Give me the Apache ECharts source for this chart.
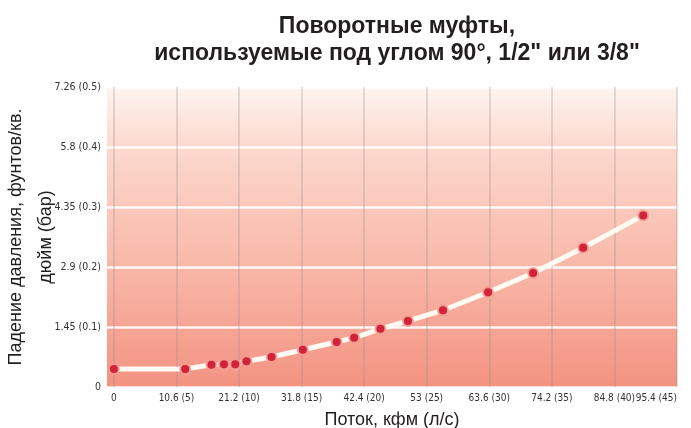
<!DOCTYPE html>
<html>
<head>
<meta charset="utf-8">
<script src="https://cdn.jsdelivr.net/npm/echarts@6/dist/echarts.min.js"></script>
<style>
  html, body { margin: 0; padding: 0; background: #fff; }
  #chart { width: 691px; height: 428px; }
</style>
</head>
<body>
<div id="chart"></div>
<script>
// flow in l/s, pressure drop in bar
const flowLps = [0, 5.7, 7.8, 8.8, 9.7, 10.6, 12.6, 15.1, 17.8, 19.2, 21.3, 23.5, 26.3, 29.9, 33.5, 37.5, 42.3]
const dropBar = [0.030, 0.030, 0.037, 0.038, 0.038, 0.043, 0.050, 0.062, 0.075, 0.082, 0.097, 0.110, 0.128, 0.158, 0.190, 0.232, 0.286]

const xTickValues = [0, 5, 10, 15, 20, 25, 30, 35, 40, 45]
const xTickLabels = ['0', '10.6 (5)', '21.2 (10)', '31.8 (15)', '42.4 (20)', '53 (25)', '63.6 (30)', '74.2 (35)', '84.8 (40)', '95.4 (45)']
const yTickLabels = ['0', '1.45 (0.1)', '2.9 (0.2)', '4.35 (0.3)', '5.8 (0.4)', '7.26 (0.5)']

const title = 'Поворотные муфты,\nиспользуемые под углом 90°, 1/2" или 3/8"'
const xName = 'Поток, кфм (л/с)'
const yName = 'Падение давления, фунтов/кв.\nдюйм (бар)'

const chart = echarts.init(document.getElementById('chart'), null, { renderer: 'canvas' })

const tickFont = "'Liberation Sans Narrow', 'DejaVu Sans Condensed', sans-serif"
const textFont = 'Liberation Sans, Arial, sans-serif'

chart.setOption({
  animation: false,
  backgroundColor: '#ffffff',
  title: {
    text: title,
    left: 392,
    top: 8,
    textAlign: 'center',
    textStyle: {
      fontFamily: textFont,
      fontSize: 23,
      fontWeight: 'bold',
      lineHeight: 27,
      color: '#231f20'
    }
  },
  grid: {
    left: 107,
    right: 14,
    top: 87,
    bottom: 41,
    outerBoundsMode: 'none',
    containLabel: false,
    show: true,
    borderWidth: 0,
    backgroundColor: new echarts.graphic.LinearGradient(0, 0, 0, 1, [
      { offset: 0, color: '#fef4f0' },
      { offset: 0.2, color: '#fcd9ce' },
      { offset: 0.55, color: '#f9bcad' },
      { offset: 1, color: '#f39382' }
    ])
  },
  xAxis: {
    type: 'value',
    min: -0.55,
    max: 45,
    name: xName,
    nameLocation: 'middle',
    nameGap: 24,
    nameMoveOverlap: false,
    nameTextStyle: { fontFamily: textFont, fontSize: 18, color: '#231f20' },
    axisLine: { show: false },
    axisTick: { show: false, customValues: xTickValues },
    axisLabel: {
      customValues: xTickValues,
      margin: 6,
      showMaxLabel: true,
      hideOverlap: false,
      alignMaxLabel: 'right',
      fontFamily: tickFont,
      fontSize: 10,
      color: '#333',
      formatter: (v) => xTickLabels[xTickValues.indexOf(Math.round(v))]
    },
    splitLine: { show: true, lineStyle: { color: 'rgba(150,140,140,0.35)', width: 1.5 } }
  },
  yAxis: {
    type: 'value',
    min: 0,
    max: 0.5,
    interval: 0.1,
    name: yName,
    nameLocation: 'middle',
    nameGap: 46,
    nameMoveOverlap: false,
    nameTextStyle: { fontFamily: textFont, fontSize: 18, lineHeight: 30, color: '#231f20' },
    axisLine: { show: false },
    axisTick: { show: false },
    axisLabel: {
      margin: 6,
      fontFamily: tickFont,
      fontSize: 10.5,
      color: '#333',
      formatter: (v) => yTickLabels[Math.round(v * 10)]
    },
    splitLine: { show: true, lineStyle: { color: 'rgba(255,255,255,0.9)', width: 2.5 } }
  },
  series: [
    {
      type: 'line',
      data: flowLps.map((f, i) => [f, dropBar[i]]),
      symbol: 'circle',
      symbolSize: 10,
      lineStyle: { color: '#fffaf2', width: 5 },
      itemStyle: { color: '#d1243a', borderColor: 'rgba(244,160,150,0.9)', borderWidth: 2 },
      z: 3
    }
  ]
})
</script>
</body>
</html>
